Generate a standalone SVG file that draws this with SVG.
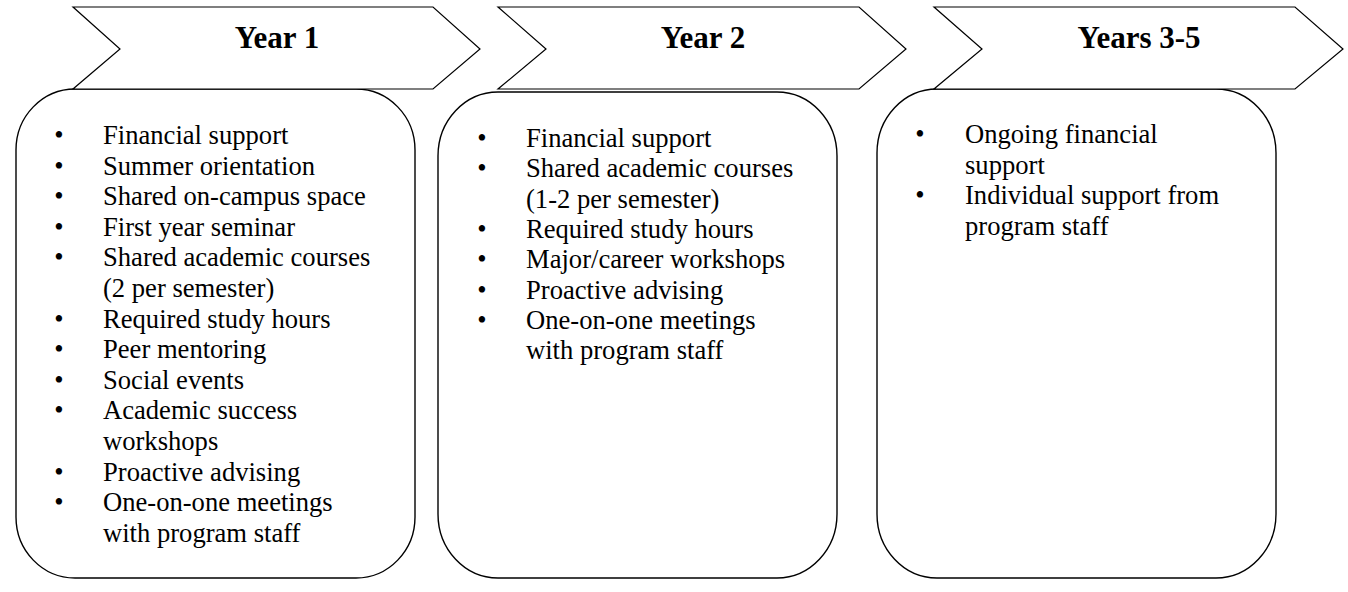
<svg xmlns="http://www.w3.org/2000/svg" width="1348" height="592" viewBox="0 0 1348 592">
<style>
.box{fill:#fff;stroke:#000;stroke-width:1.4}
.chev{fill:#fff;stroke:#000;stroke-width:1.2;stroke-linejoin:miter}
.title{font-family:"Liberation Serif","Times New Roman",serif;font-weight:bold;font-size:31px;fill:#000;text-anchor:middle}
.item{font-family:"Liberation Serif","Times New Roman",serif;font-size:26.6px;fill:#000}
.bul{font-family:"Liberation Serif","Times New Roman",serif;font-size:26.6px;fill:#000;text-anchor:middle}
</style>
<rect width="1348" height="592" fill="#fff"/>
<g id="box-year1">
<rect class="box" x="16" y="89" width="399" height="489" rx="59" ry="61"/>
<g class="bul">
<text x="59" y="144">•</text><text x="59" y="174.6">•</text><text x="59" y="205.2">•</text><text x="59" y="235.8">•</text><text x="59" y="266.4">•</text><text x="59" y="327.6">•</text><text x="59" y="358.2">•</text><text x="59" y="388.8">•</text><text x="59" y="419.4">•</text><text x="59" y="480.6">•</text><text x="59" y="511.2">•</text>
</g>
<g class="item">
<text x="103" y="144">Financial support</text>
<text x="103" y="174.6">Summer orientation</text>
<text x="103" y="205.2">Shared on-campus space</text>
<text x="103" y="235.8">First year seminar</text>
<text x="103" y="266.4">Shared academic courses</text>
<text x="103" y="297">(2 per semester)</text>
<text x="103" y="327.6">Required study hours</text>
<text x="103" y="358.2">Peer mentoring</text>
<text x="103" y="388.8">Social events</text>
<text x="103" y="419.4">Academic success</text>
<text x="103" y="450">workshops</text>
<text x="103" y="480.6">Proactive advising</text>
<text x="103" y="511.2">One-on-one meetings</text>
<text x="103" y="541.8">with program staff</text>
</g>
</g>
<g id="box-year2">
<rect class="box" x="438" y="92" width="399" height="486" rx="60" ry="64"/>
<g class="bul">
<text x="482" y="147">•</text><text x="482" y="177.3">•</text><text x="482" y="237.9">•</text><text x="482" y="268.2">•</text><text x="482" y="298.5">•</text><text x="482" y="328.8">•</text>
</g>
<g class="item">
<text x="526" y="147">Financial support</text>
<text x="526" y="177.3">Shared academic courses</text>
<text x="526" y="207.6">(1-2 per semester)</text>
<text x="526" y="237.9">Required study hours</text>
<text x="526" y="268.2">Major/career workshops</text>
<text x="526" y="298.5">Proactive advising</text>
<text x="526" y="328.8">One-on-one meetings</text>
<text x="526" y="359.1">with program staff</text>
</g>
</g>
<g id="box-years3-5">
<rect class="box" x="877" y="89" width="399" height="489" rx="60" ry="64"/>
<g class="bul">
<text x="920" y="143">•</text><text x="920" y="204">•</text>
</g>
<g class="item">
<text x="965" y="143">Ongoing financial</text>
<text x="965" y="173.5">support</text>
<text x="965" y="204">Individual support from</text>
<text x="965" y="234.5">program staff</text>
</g>
</g>
<g id="chevron-year1">
<polygon class="chev" points="73,7 433,7 480,49 433,89 73,89 120,49"/>
<text class="title" x="277" y="48">Year 1</text>
</g>
<g id="chevron-year2">
<polygon class="chev" points="498,7 859,7 906,49 859,89 498,89 546,49"/>
<text class="title" x="703" y="48">Year 2</text>
</g>
<g id="chevron-years3-5">
<polygon class="chev" points="934,7 1295,7 1343,49 1295,89 934,89 982,49"/>
<text class="title" x="1139" y="48">Years 3-5</text>
</g>
<g id="connectors"/>
</svg>
